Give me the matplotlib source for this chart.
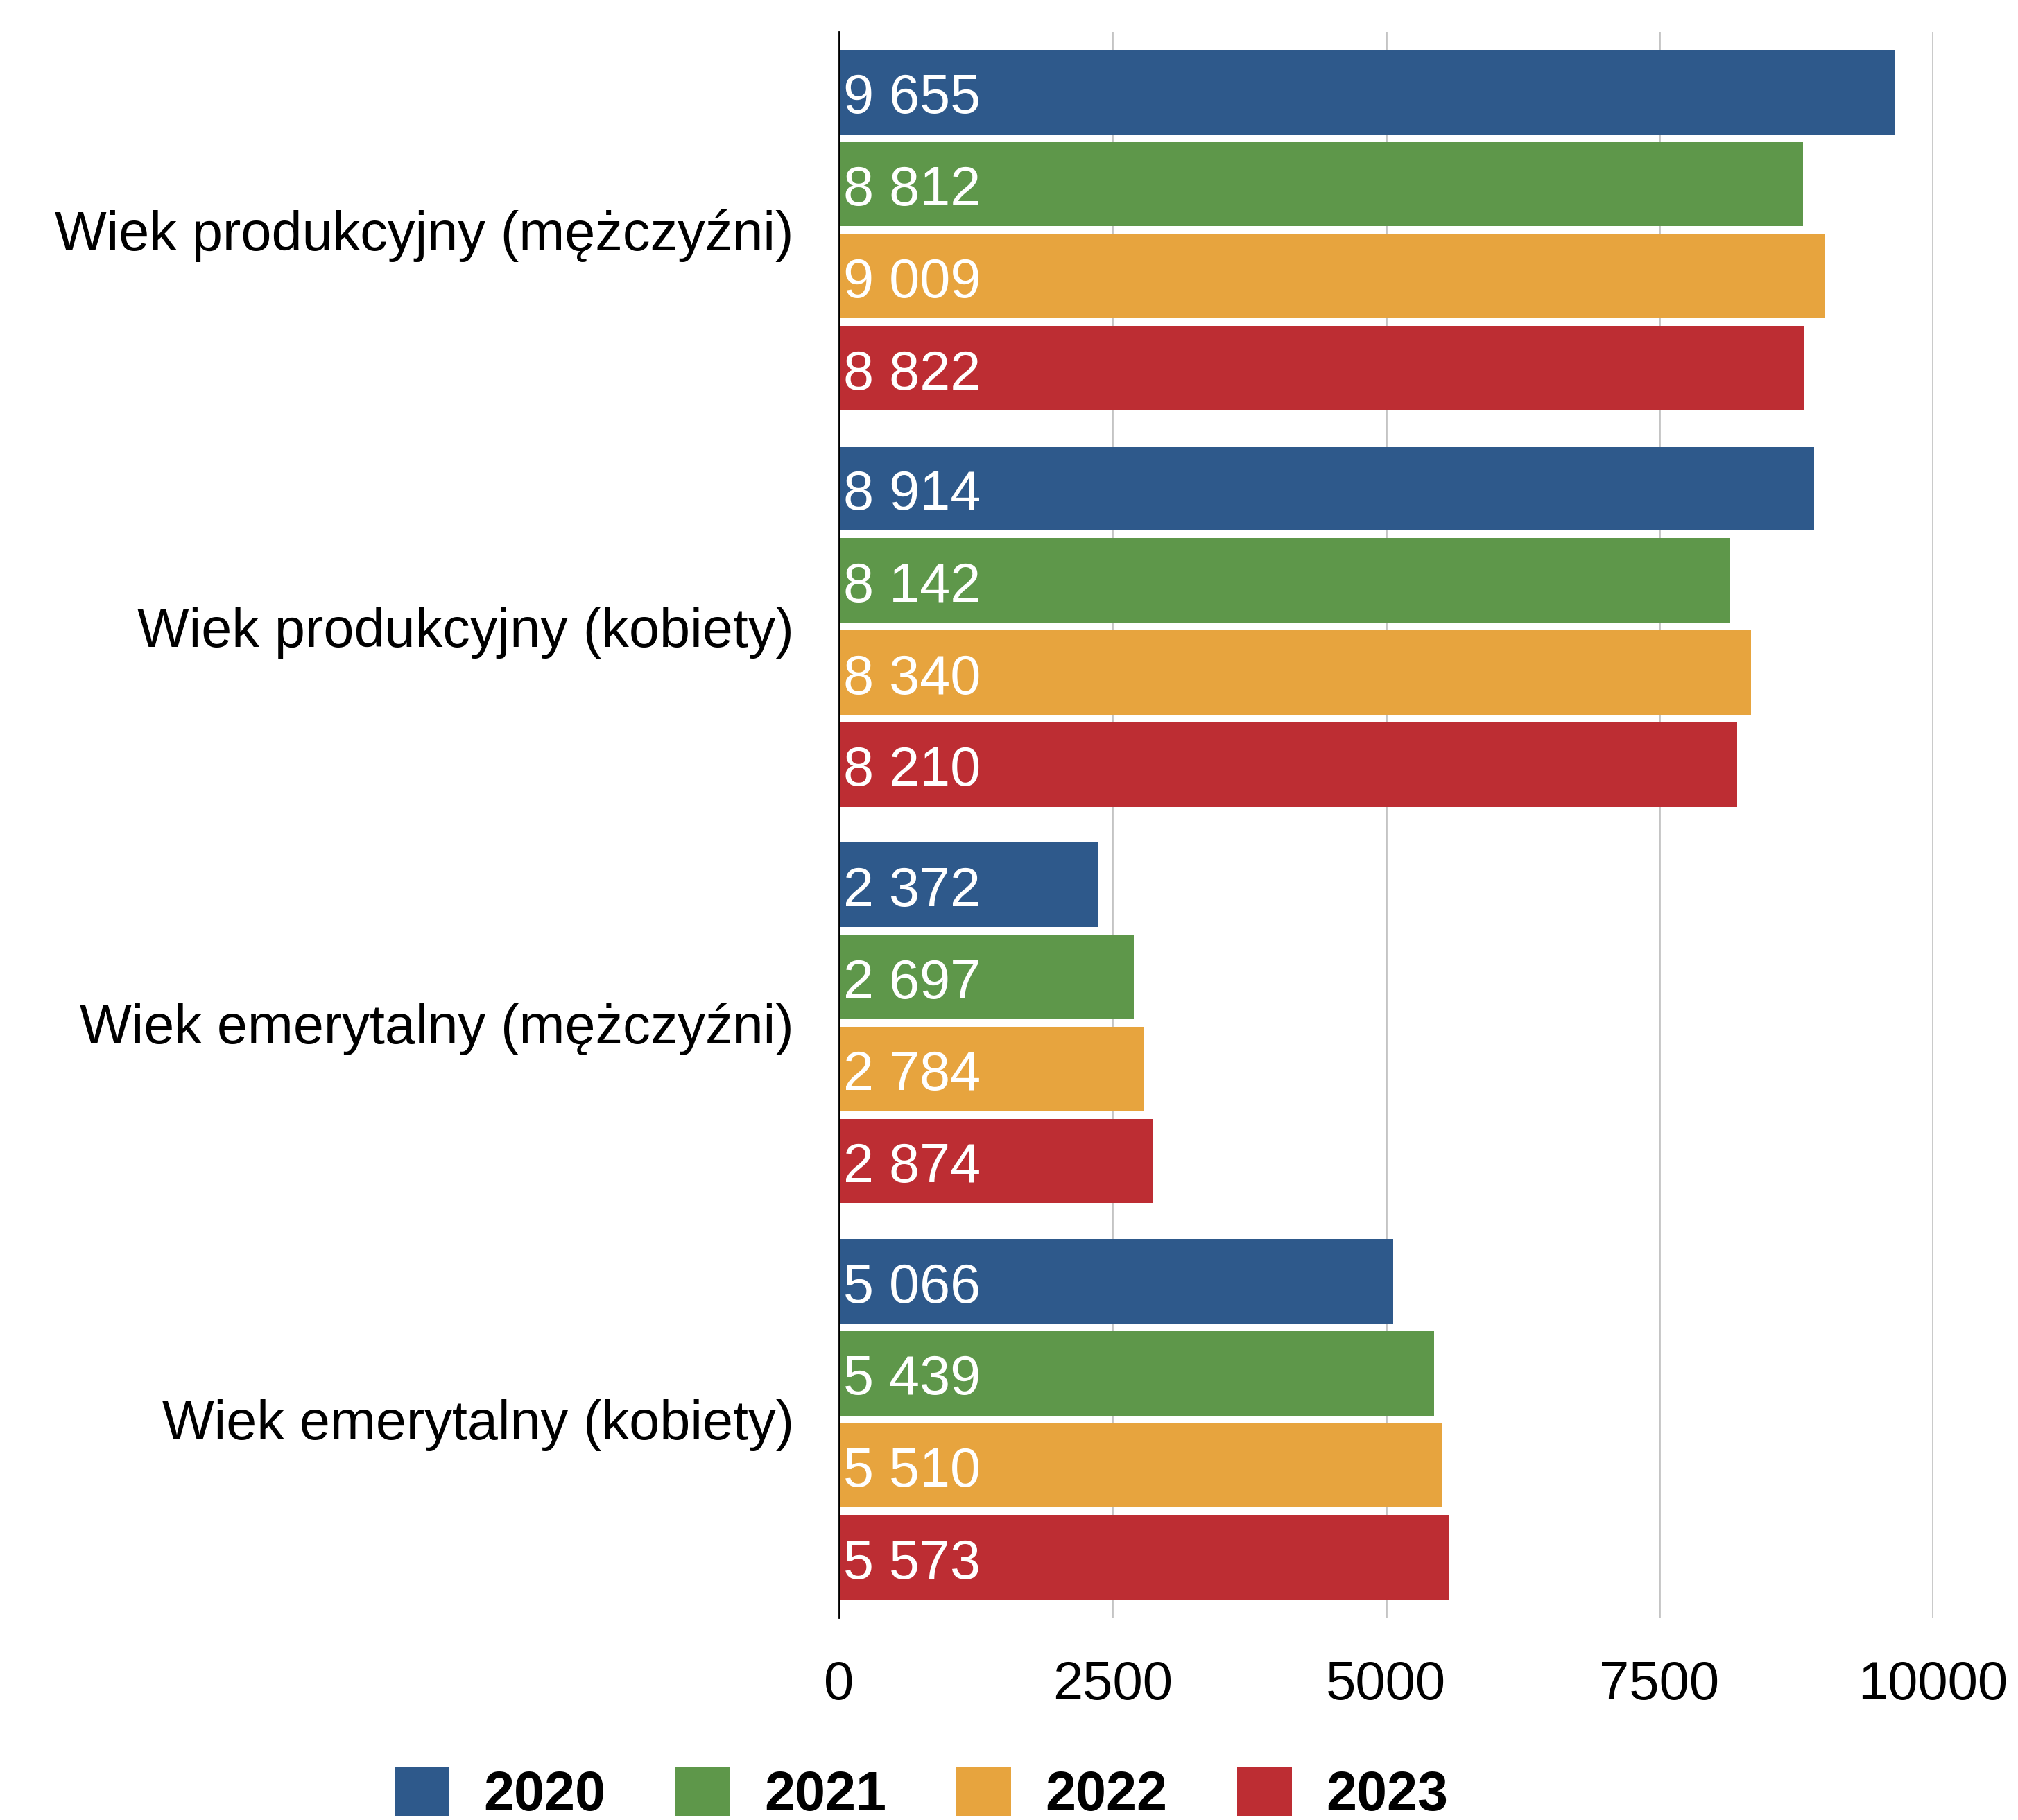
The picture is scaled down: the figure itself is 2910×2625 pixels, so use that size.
import matplotlib.pyplot as plt
import numpy as np

plt.rcParams['font.family'] = ['Liberation Sans', 'DejaVu Sans']

categories = [
    "Wiek produkcyjny (mężczyźni)",
    "Wiek produkcyjny (kobiety)",
    "Wiek emerytalny (mężczyźni)",
    "Wiek emerytalny (kobiety)",
]
years = ["2020", "2021", "2022", "2023"]
values_2020 = [9655, 8914, 2372, 5066]
values_2021 = [8812, 8142, 2697, 5439]
values_2022 = [9009, 8340, 2784, 5510]
values_2023 = [8822, 8210, 2874, 5573]
series = [values_2020, values_2021, values_2022, values_2023]
colors = ["#2E598B", "#5E974A", "#E7A43E", "#BD2D33"]
xticks = [0, 2500, 5000, 7500, 10000]

FS = 57

fig = plt.figure(figsize=(29.1, 26.25), dpi=100)
ax = fig.add_axes([0.4158, 0.11124, 0.5420, 0.87124])

step = 0.2322
height = 0.213
y = np.arange(len(categories))
handles = []
for i, (vals, col) in enumerate(zip(series, colors)):
    pos = y - 1.5 * step + i * step
    bars = ax.barh(pos, vals, height=height, color=col, zorder=3)
    handles.append(bars)
    # value labels in white, just inside the bar start
    for p, v in zip(pos, vals):
        ax.annotate(f"{v:,}".replace(",", " "), xy=(0, p), xytext=(4.5, -22),
                    textcoords='offset points', va='baseline', ha='left',
                    color='white', fontsize=FS, zorder=4)

ax.set_xlim(0, 10000)
ax.set_ylim(3.5, -0.5)
ax.set_yticks(y)
ax.set_yticklabels(categories, fontsize=FS)
ax.set_xticks(xticks)
ax.set_xticklabels([str(t) for t in xticks], fontsize=56)
ax.tick_params(axis='y', length=0, pad=47)
ax.tick_params(axis='x', length=0, pad=44)
ax.grid(axis='x', color='#c4c4c4', linewidth=2, zorder=0)
for s in ['top', 'right', 'bottom']:
    ax.spines[s].set_visible(False)
ax.spines['left'].set_linewidth(2)
ax.spines['left'].set_zorder(5)

fig.legend(handles, years, loc='center', bbox_to_anchor=(0.4565, 1 - 2588 / 2625),
           ncol=4, frameon=False, prop={'weight': 'bold', 'size': FS},
           handlelength=1.0, handleheight=1.0, handletextpad=0.62,
           columnspacing=1.27, borderpad=0, borderaxespad=0)

fig.savefig("out.png", dpi=100)
